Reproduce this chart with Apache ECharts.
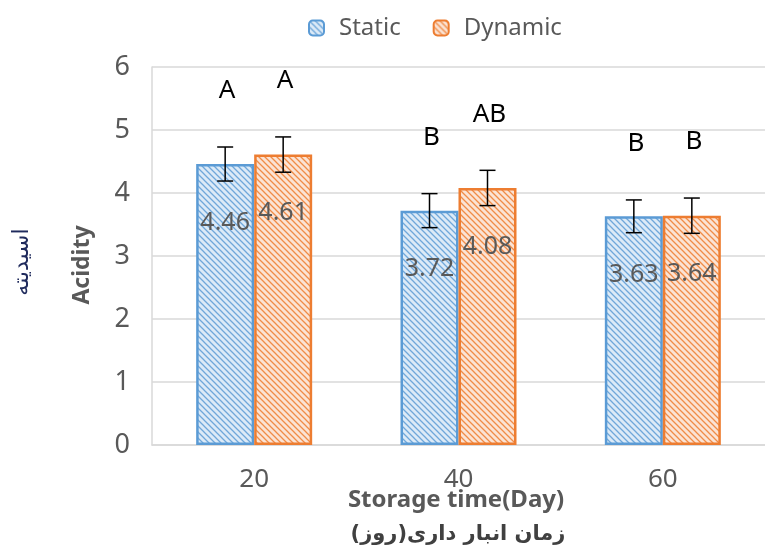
<!DOCTYPE html>
<html>
<head>
<meta charset="utf-8">
<script src="https://cdn.jsdelivr.net/npm/echarts@6/dist/echarts.min.js"></script>
<style>
  html, body { margin: 0; padding: 0; background: #fff; }
  #main { width: 765px; height: 554px; }
</style>
</head>
<body>
<div id="main"></div>
<script>
// 数据
const days = ['20', '40', '60'];
const staticVals = [4.46, 3.72, 3.63];
const dynamicVals = [4.61, 4.08, 3.64];
const staticErr = [0.27, 0.27, 0.26];
const dynamicErr = [0.28, 0.28, 0.28];
const staticLetters = ['A', 'B', 'B'];
const dynamicLetters = ['A', 'AB', 'B'];
const yTicks = [0, 1, 2, 3, 4, 5, 6];

const BAR_W = 58;
const GRAY = '#595959';

// 斜线填充
function hatch(bg, fg) {
  const c = document.createElement('canvas');
  c.width = 6; c.height = 6;
  const ctx = c.getContext('2d');
  ctx.fillStyle = bg;
  ctx.fillRect(0, 0, 6, 6);
  ctx.strokeStyle = fg;
  ctx.lineWidth = 1.3;
  ctx.beginPath();
  ctx.moveTo(-1, -1); ctx.lineTo(7, 7);
  ctx.moveTo(-1, 5); ctx.lineTo(1, 7);
  ctx.moveTo(5, -1); ctx.lineTo(7, 1);
  ctx.stroke();
  return { image: c, repeat: 'repeat' };
}

const bluePat = hatch('#dceaf7', '#6fa7da');
const orangePat = hatch('#fbe3d4', '#f08c47');

// 误差线
function errRender(vals, errs, side) {
  return function (params, api) {
    const i = params.dataIndex;
    const hi = api.coord([i, vals[i] + errs[i]]);
    const lo = api.coord([i, vals[i] - errs[i]]);
    const x = hi[0] + side * BAR_W / 2;
    const cap = 8;
    const st = { stroke: '#000', lineWidth: 1.5 };
    return {
      type: 'group',
      children: [
        { type: 'line', shape: { x1: x, y1: hi[1], x2: x, y2: lo[1] }, style: st },
        { type: 'line', shape: { x1: x - cap, y1: hi[1], x2: x + cap, y2: hi[1] }, style: st },
        { type: 'line', shape: { x1: x - cap, y1: lo[1], x2: x + cap, y2: lo[1] }, style: st }
      ]
    };
  };
}

// 显著性字母
function letterRender(vals, errs, letters, side) {
  return function (params, api) {
    const i = params.dataIndex;
    const p = api.coord([i, vals[i] + errs[i]]);
    return {
      type: 'text',
      x: p[0] + side * BAR_W / 2 + 2,
      y: p[1] - 56,
      style: {
        text: letters[i], fill: '#000', fontSize: 26,
        fontFamily: 'Noto Sans', align: 'center', verticalAlign: 'middle'
      }
    };
  };
}

const barLabel = {
  show: true, position: 'insideTop', distance: 46,
  color: GRAY, fontSize: 25, fontFamily: 'Noto Sans',
  formatter: p => p.value.toFixed(2)
};

const chart = echarts.init(document.getElementById('main'));
chart.setOption({
  animation: false,
  legend: {
    top: 11, left: 303,
    itemWidth: 15, itemHeight: 15, itemGap: 32,
    textStyle: { color: GRAY, fontSize: 24, fontFamily: 'Noto Sans', padding: [0, 0, 0, 10] },
    data: ['Static', 'Dynamic']
  },
  grid: { left: 152, top: 67, width: 623, height: 378 },
  xAxis: {
    type: 'category', data: days,
    axisLine: { lineStyle: { color: '#d9d9d9', width: 1.5 } },
    axisTick: { show: false },
    axisLabel: { color: GRAY, fontSize: 26, margin: 22, fontFamily: 'Noto Sans' }
  },
  yAxis: {
    type: 'value', min: 0, max: 6, interval: 1,
    axisLine: { show: true, lineStyle: { color: '#d9d9d9', width: 1.5 } },
    axisLabel: { color: GRAY, fontSize: 27, margin: 22, fontFamily: 'Noto Sans',
      formatter: v => yTicks.includes(v) ? String(v) : '' },
    splitLine: { lineStyle: { color: '#d9d9d9', width: 1.5 } }
  },
  series: [
    {
      name: 'Static', type: 'bar', data: staticVals,
      barWidth: BAR_W, barGap: '0%',
      itemStyle: { color: bluePat, borderColor: '#5b9bd5', borderWidth: 2.5 },
      label: barLabel
    },
    {
      name: 'Dynamic', type: 'bar', data: dynamicVals,
      barWidth: BAR_W, barGap: '0%',
      itemStyle: { color: orangePat, borderColor: '#ed7d31', borderWidth: 2.5 },
      label: barLabel
    },
    { type: 'custom', z: 5, data: staticVals.map((v, i) => [i, v]), renderItem: errRender(staticVals, staticErr, -1) },
    { type: 'custom', z: 5, data: dynamicVals.map((v, i) => [i, v]), renderItem: errRender(dynamicVals, dynamicErr, 1) },
    { type: 'custom', z: 5, data: staticVals.map((v, i) => [i, v]), renderItem: letterRender(staticVals, staticErr, staticLetters, -1) },
    { type: 'custom', z: 5, data: dynamicVals.map((v, i) => [i, v]), renderItem: letterRender(dynamicVals, dynamicErr, dynamicLetters, 1) }
  ],
  graphic: [
    {
      type: 'text', x: 82, y: 265, rotation: Math.PI / 2,
      style: { text: 'Acidity', fill: GRAY, fontSize: 23, fontWeight: 'bold',
        fontFamily: 'Noto Sans', align: 'center', verticalAlign: 'middle' }
    },
    {
      type: 'text', x: 456, y: 500,
      style: { text: 'Storage time(Day)', fill: GRAY, fontSize: 24, fontWeight: 'bold',
        fontFamily: 'Noto Sans', align: 'center', verticalAlign: 'middle' }
    },
    {
      type: 'text', x: 458, y: 535,
      style: { text: 'زمان انبار داری(روز)', fill: '#404040', fontSize: 21, fontWeight: 'bold',
        fontFamily: 'DejaVu Sans', align: 'center', verticalAlign: 'middle' }
    },
    {
      type: 'text', x: 22, y: 262, rotation: Math.PI / 2,
      style: { text: 'اسیدیته', fill: '#1f2a5c', fontSize: 22,
        fontFamily: 'DejaVu Sans', align: 'center', verticalAlign: 'middle' }
    }
  ]
});
</script>
</body>
</html>
